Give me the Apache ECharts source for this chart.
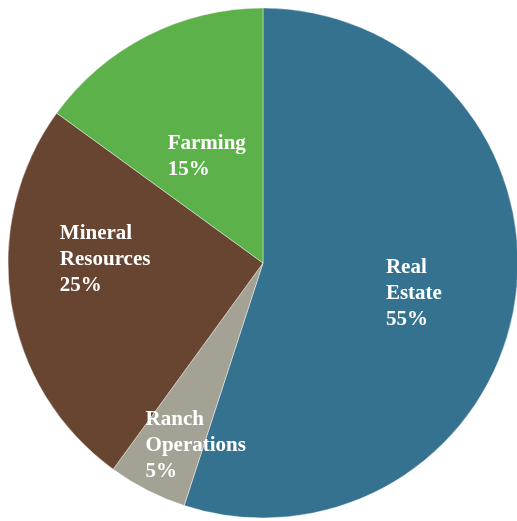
<!DOCTYPE html>
<html><head><meta charset="utf-8">
<script src="https://cdn.jsdelivr.net/npm/echarts@6/dist/echarts.min.js"></script>
<style>html,body{margin:0;padding:0;background:#fff}#c{width:517px;height:521px}</style>
</head><body><div id="c"></div>
<script>
const categories = ['Real\nEstate', 'Ranch\nOperations', 'Mineral\nResources', 'Farming'];
const values = [55, 5, 25, 15];
const colors = ['#35728F', '#A3A295', '#674531', '#5DB14A'];
// label nudges relative to the default inside position (px)
const labelNudge = [[22, 10], [-8, 66], [-29, -24], [3, 10]];

const chart = echarts.init(document.getElementById('c'));
chart.setOption({
  animation: false,
  series: [{
    type: 'pie',
    center: ['263', '263'],
    radius: ['0', '255'],
    startAngle: 90,
    clockwise: true,
    data: categories.map((n, i) => ({ name: n, value: values[i], itemStyle: { color: colors[i] } })),
    itemStyle: { borderColor: 'rgba(255,255,255,0.5)', borderWidth: 0.8 },
    label: {
      show: true,
      position: 'inside',
      formatter: p => p.name + '\n' + p.value + '%',
      color: '#fff',
      fontFamily: 'Liberation Serif',
      fontWeight: 'bold',
      fontSize: 21,
      lineHeight: 26
    },
    labelLine: { show: false },
    labelLayout: function (p) {
      const n = labelNudge[p.dataIndex];
      return { x: p.labelRect.x + n[0], y: p.labelRect.y + n[1], align: 'left', verticalAlign: 'top' };
    }
  }]
});
</script></body></html>
